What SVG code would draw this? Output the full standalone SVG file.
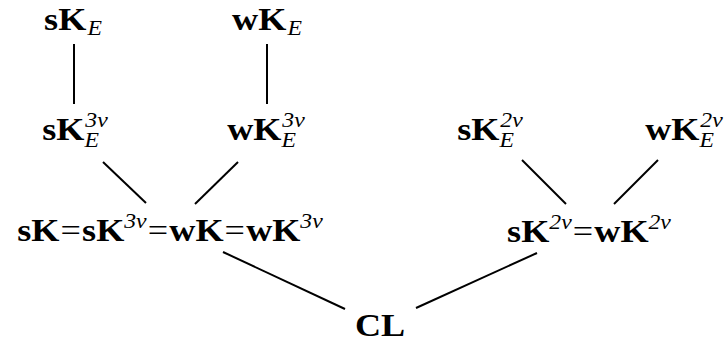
<svg xmlns="http://www.w3.org/2000/svg" width="725" height="345" viewBox="0 0 725 345">
<style>
text{font-family:"Liberation Serif","Times New Roman",serif;font-size:32px;fill:#000;text-anchor:middle}
.b{font-weight:bold}
.i{font-style:italic;font-size:21px}
.n{font-weight:normal}
.e{stroke:#000;stroke-width:2;fill:none}
</style>
<rect width="725" height="345" fill="#fff"/>
<g id="edges">
<line class="e" x1="74" y1="44" x2="74" y2="104"/>
<line class="e" x1="267" y1="44" x2="267" y2="104"/>
<line class="e" x1="103" y1="162" x2="146" y2="203"/>
<line class="e" x1="238" y1="162" x2="195" y2="204"/>
<line class="e" x1="223" y1="252" x2="345" y2="309"/>
<line class="e" x1="416" y1="308" x2="537" y2="253"/>
<line class="e" x1="522" y1="160" x2="566" y2="204"/>
<line class="e" x1="658" y1="160" x2="614" y2="204"/>
</g>
<g id="sKE"><text transform="translate(73,30) scale(1.13,1)"><tspan class="b">sK</tspan><tspan class="i" dx="1" dy="5">E</tspan></text></g>
<g id="wKE"><text transform="translate(267,30) scale(1.13,1)"><tspan class="b">wK</tspan><tspan class="i" dx="1" dy="5">E</tspan></text></g>
<g id="sKE3v"><text transform="translate(75,140) scale(1.13,1)"><tspan class="b">sK</tspan><tspan class="i" dy="7">E</tspan><tspan class="i" dx="-12" dy="-20">3v</tspan></text></g>
<g id="wKE3v"><text transform="translate(266,140) scale(1.13,1)"><tspan class="b">wK</tspan><tspan class="i" dy="7">E</tspan><tspan class="i" dx="-12" dy="-20">3v</tspan></text></g>
<g id="sKE2v"><text transform="translate(490,140) scale(1.13,1)"><tspan class="b">sK</tspan><tspan class="i" dy="7">E</tspan><tspan class="i" dx="-12" dy="-20">2v</tspan></text></g>
<g id="wKE2v"><text transform="translate(684,140) scale(1.13,1)"><tspan class="b">wK</tspan><tspan class="i" dy="7">E</tspan><tspan class="i" dx="-12" dy="-20">2v</tspan></text></g>
<g id="main"><text transform="translate(170,241) scale(1.13,1)"><tspan class="b">sK</tspan><tspan class="n" dx="1">=</tspan><tspan class="b" dx="1">sK</tspan><tspan class="i" dy="-13">3v</tspan><tspan class="n" dx="1" dy="13">=</tspan><tspan class="b" dx="1">wK</tspan><tspan class="n" dx="1">=</tspan><tspan class="b" dx="1">wK</tspan><tspan class="i" dy="-13">3v</tspan></text></g>
<g id="sK2v"><text transform="translate(589,242) scale(1.13,1)"><tspan class="b">sK</tspan><tspan class="i" dy="-13">2v</tspan><tspan class="n" dx="1" dy="13">=</tspan><tspan class="b" dx="1">wK</tspan><tspan class="i" dy="-13">2v</tspan></text></g>
<g id="CL"><text class="b" transform="translate(380,336) scale(1.13,1)">CL</text></g>
</svg>
